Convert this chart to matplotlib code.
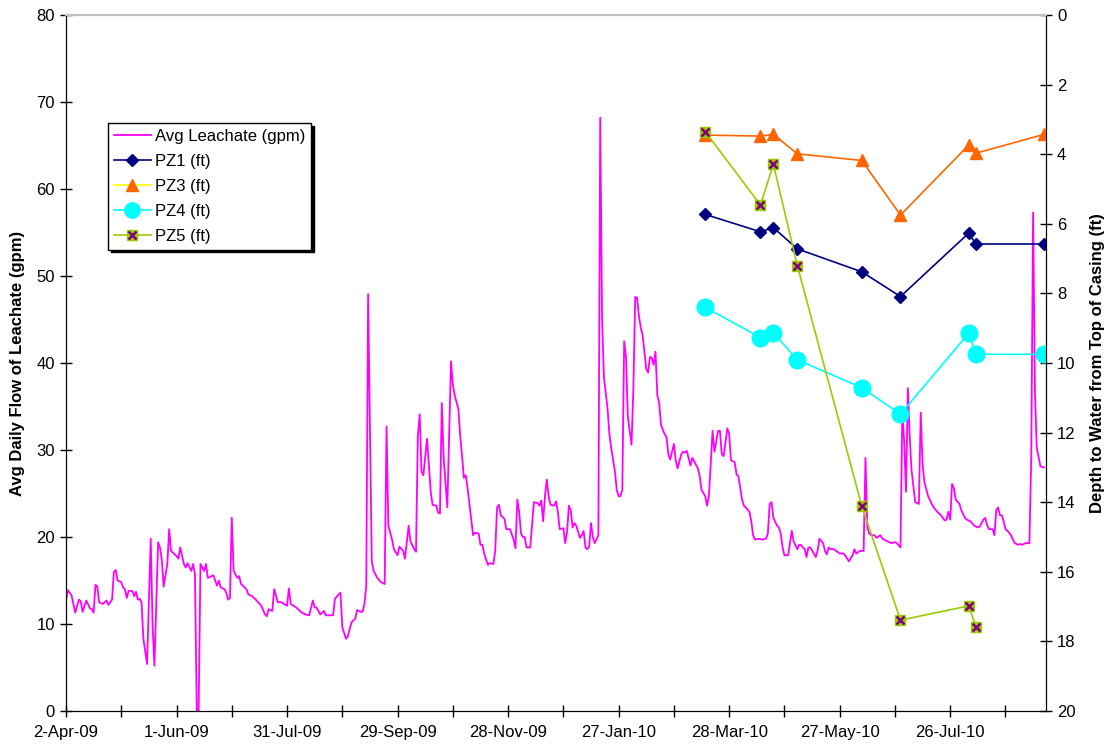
import matplotlib
matplotlib.use('Agg')
import matplotlib.pyplot as plt
from matplotlib.lines import Line2D
import numpy as np

plt.rcParams['font.family'] = ['Liberation Sans', 'DejaVu Sans']

START = np.datetime64('2009-04-02')

# avg daily leachate flow (gpm), days counted from 2-Apr-09
flow_days = [0, 1, 3, 5, 7, 8, 9, 11, 13, 14, 15, 16, 17, 18, 20, 22, 23, 25, 26, 27,
             28, 30, 31, 32, 33, 34, 36, 37, 38, 39, 40, 41, 42, 44, 46, 47, 48, 50, 51, 52,
             53, 55, 56, 57, 60, 61, 62, 64, 65, 66, 68, 69, 70, 71, 72, 73, 75, 76, 77, 80,
             82, 83, 84, 86, 87, 88, 89, 90, 91, 93, 94, 95, 98, 99, 101, 103, 106, 108, 109, 110,
             112, 113, 115, 117, 119, 120, 121, 122, 125, 127, 128, 130, 132, 134, 135, 136, 138, 140, 141, 145,
             146, 148, 149, 150, 152, 153, 155, 157, 158, 160, 161, 162, 163, 164, 166, 167, 169, 171, 173, 174,
             175, 177, 178, 180, 181, 183, 184, 186, 187, 189, 190, 191, 192, 193, 194, 196, 198, 199, 201, 202,
             203, 204, 205, 207, 209, 210, 211, 213, 214, 215, 216, 217, 218, 220, 221, 222, 224, 225, 226, 227,
             229, 230, 232, 233, 234, 235, 236, 238, 239, 241, 243, 244, 245, 246, 247, 248, 249, 250, 252, 254,
             256, 257, 258, 259, 260, 261, 262, 263, 265, 266, 267, 268, 270, 271, 272, 273, 274, 275, 276, 277,
             279, 280, 281, 282, 283, 284, 285, 286, 287, 289, 290, 291, 292, 294, 295, 296, 298, 299, 300, 301,
             302, 303, 304, 305, 307, 308, 309, 310, 311, 312, 313, 315, 316, 317, 318, 319, 320, 321, 322, 323,
             325, 326, 327, 328, 330, 331, 332, 334, 335, 336, 337, 339, 340, 341, 343, 344, 345, 347, 348, 349,
             351, 352, 354, 355, 356, 357, 359, 360, 361, 363, 364, 365, 367, 368, 369, 371, 372, 373, 374, 376,
             378, 380, 381, 382, 383, 384, 386, 387, 388, 389, 390, 392, 393, 394, 395, 397, 398, 399, 400, 401,
             402, 403, 404, 406, 407, 408, 409, 411, 412, 413, 414, 415, 417, 418, 420, 422, 423, 425, 427, 428,
             429, 431, 433, 434, 435, 436, 437, 439, 440, 442, 443, 444, 446, 448, 450, 451, 453, 454, 455, 456,
             457, 458, 459, 461, 463, 464, 465, 466, 468, 470, 471, 473, 475, 477, 478, 479, 480, 481, 482, 483,
             485, 486, 488, 489, 491, 493, 495, 496, 498, 499, 500, 501, 503, 504, 505, 506, 507, 508, 509, 510,
             512, 513, 514, 515, 517, 518, 519, 521, 523, 524, 525, 526, 527, 529, 531]
flow_gpm = [12.7, 13.9, 13.3, 11.3, 12.8, 12.6, 11.4, 12.7, 11.8, 11.7, 11.3, 14.5, 14.3, 12.5, 12.3, 12.7, 12.2, 12.8, 16.0, 16.2,
            15.0, 14.8, 14.2, 14.0, 13.0, 13.8, 13.8, 13.2, 13.7, 12.8, 12.9, 12.5, 8.3, 5.4, 19.8, 9.8, 5.2, 19.4, 18.8, 17.4,
            14.3, 16.9, 20.9, 18.4, 17.8, 17.5, 18.8, 16.9, 16.5, 17.0, 16.1, 16.9, 15.7, 0.0, 0.0, 16.9, 16.1, 16.9, 15.3, 15.6,
            14.4, 15.0, 14.2, 14.0, 13.6, 12.8, 13.0, 22.2, 16.1, 15.3, 15.5, 14.6, 14.0, 13.4, 13.2, 12.8, 12.1, 11.1, 10.9, 11.7,
            11.5, 14.0, 12.5, 12.5, 12.2, 12.1, 14.1, 12.3, 11.9, 11.5, 11.3, 11.1, 11.0, 12.7, 11.9, 11.9, 11.1, 11.5, 11.0, 11.0,
            12.9, 13.4, 13.6, 9.6, 8.3, 8.6, 10.2, 10.6, 11.6, 11.4, 11.4, 12.3, 14.4, 47.9, 17.2, 16.1, 15.3, 14.8, 14.6, 32.7,
            21.3, 19.7, 18.6, 17.9, 18.9, 18.4, 17.5, 21.3, 19.5, 18.6, 18.3, 31.6, 34.1, 27.5, 27.1, 31.3, 25.2, 23.7, 23.6, 22.8,
            22.7, 35.4, 29.1, 23.4, 40.2, 37.5, 36.3, 34.7, 31.6, 29.3, 26.8, 27.1, 25.6, 22.0, 20.2, 20.5, 20.4, 19.1, 19.1, 18.1,
            16.8, 17.0, 16.9, 18.4, 23.4, 23.7, 22.5, 22.1, 20.9, 20.9, 19.7, 18.7, 24.3, 22.9, 20.4, 20.0, 20.0, 18.8, 18.8, 24.0,
            23.9, 23.6, 24.2, 21.8, 24.7, 26.6, 24.7, 23.7, 23.6, 24.1, 22.9, 20.9, 21.0, 19.3, 20.6, 23.6, 23.1, 21.1, 21.6, 21.3,
            19.9, 20.2, 20.7, 18.8, 18.6, 18.9, 21.6, 20.0, 19.3, 20.2, 68.2, 45.2, 38.4, 34.7, 31.8, 30.2, 27.5, 25.4, 24.7, 24.7,
            25.4, 42.5, 40.7, 33.8, 30.6, 37.0, 47.6, 47.5, 45.4, 44.1, 43.2, 39.3, 38.9, 40.7, 40.6, 39.8, 41.3, 36.3, 35.4, 32.9,
            31.8, 31.5, 29.5, 28.9, 30.7, 28.8, 27.9, 29.5, 29.8, 29.7, 29.9, 28.2, 29.1, 28.7, 27.9, 27.0, 25.4, 24.7, 23.6, 24.7,
            32.2, 29.8, 32.2, 32.2, 29.5, 29.3, 32.5, 31.8, 28.8, 28.6, 27.2, 27.0, 24.3, 23.6, 23.4, 22.9, 21.8, 20.2, 19.7, 19.8,
            19.7, 19.8, 20.4, 23.8, 24.0, 22.2, 21.3, 21.1, 20.4, 18.8, 17.9, 17.9, 19.3, 20.7, 19.5, 18.6, 19.1, 19.1, 18.8, 18.6,
            17.7, 18.8, 18.8, 18.1, 17.7, 18.4, 19.8, 19.3, 18.4, 18.0, 18.8, 18.6, 18.6, 18.4, 18.1, 18.1, 17.9, 17.2, 17.9, 18.6,
            18.1, 18.4, 18.4, 29.1, 21.1, 20.4, 20.2, 20.2, 19.9, 20.2, 19.9, 19.7, 19.5, 19.3, 19.4, 19.3, 18.8, 34.3, 31.0, 25.2,
            37.1, 31.6, 27.7, 24.0, 23.8, 34.3, 28.4, 26.3, 24.7, 23.8, 23.4, 22.9, 22.5, 21.9, 22.0, 22.9, 22.0, 26.1, 25.6, 24.3,
            23.8, 23.1, 22.2, 22.0, 21.8, 21.3, 21.1, 21.2, 22.0, 22.2, 21.4, 20.9, 20.9, 20.2, 23.1, 23.4, 22.5, 22.5, 21.8, 20.9,
            20.5, 20.2, 19.7, 19.3, 19.1, 19.2, 19.1, 19.3, 19.3, 29.3, 57.3, 36.6, 30.2, 28.1, 28.0]

# piezometer depth to water (ft), days counted from 2-Apr-09
pz_days = [347, 377, 384, 397, 432, 453, 490, 494, 531]
pz1 = [5.73, 6.23, 6.11, 6.72, 7.38, 8.09, 6.27, 6.58, 6.58]
pz3 = [3.45, 3.48, 3.43, 3.99, 4.18, 5.75, 3.74, 3.97, 3.43]
pz4 = [8.40, 9.27, 9.13, 9.91, 10.71, 11.47, 9.15, 9.75, 9.75]
pz5_days = [347, 377, 384, 397, 432, 453, 490, 494]
pz5 = [3.35, 5.46, 4.29, 7.20, 14.11, 17.39, 16.98, 17.58]

flow_dates = START + np.array(flow_days).astype('timedelta64[D]')
pz_dates = START + np.array(pz_days).astype('timedelta64[D]')
pz5_dates = START + np.array(pz5_days).astype('timedelta64[D]')

fig = plt.figure(figsize=(11.12, 7.48), dpi=100)
ax = fig.add_axes([66 / 1112, 37 / 748, 980 / 1112, 696 / 748])
ax2 = ax.twinx()

ax.plot(flow_dates, flow_gpm, color='#FF00FF', lw=1.3, zorder=2)

ax2.plot(pz_dates, pz1, color='#000080', lw=1.2, marker='D', ms=6.5)
ax2.plot(pz_dates, pz3, color='#FF6600', lw=1.2, marker='^', ms=9)
ax2.plot(pz_dates, pz4, color='#00FFFF', lw=1.2, marker='o', ms=12)
ax2.plot(pz5_dates, pz5, color='#99CC00', lw=1.2, marker='s', ms=6.5, mec='#99CC00')
ax2.plot(pz5_dates, pz5, ls='none', marker='x', ms=6, mew=1.8, color='#800080')

ax.set_ylim(0, 80)
ax.set_yticks(range(0, 81, 10))
ax2.set_ylim(20, 0)
ax2.set_yticks(range(0, 21, 2))

ax.set_xlim(START, START + np.timedelta64(532, 'D'))
tick_dates = START + (np.arange(18) * 30).astype('timedelta64[D]')
labels = []
for i, t in enumerate(tick_dates):
    d = t.astype(object)
    labels.append(f"{d.day}-{d.strftime('%b-%y')}" if i % 2 == 0 else '')
ax.set_xticks(tick_dates)
ax.set_xticklabels(labels)

for a in (ax, ax2):
    a.tick_params(direction='inout', length=8, width=1, labelsize=12, pad=4)
    a.spines['top'].set_color('#C0C0C0')
    a.spines['top'].set_linewidth(1.5)
ax.tick_params(axis='x', pad=6)

ax.set_ylabel('Avg Daily Flow of Leachate (gpm)', fontsize=12, fontweight='bold', labelpad=8)
ax2.set_ylabel('Depth to Water from Top of Casing (ft)', fontsize=12, fontweight='bold',
               rotation=90, labelpad=10)

handles = [
    Line2D([], [], color='#FF00FF', lw=1.3),
    Line2D([], [], color='#000080', lw=1.2, marker='D', ms=6.5),
    Line2D([], [], color='#FFFF00', lw=1.2, marker='^', ms=9, mfc='#FF6600', mec='#FF6600'),
    Line2D([], [], color='#00FFFF', lw=1.2, marker='o', ms=11),
    (Line2D([], [], color='#99CC00', lw=1.2, marker='s', ms=6.5),
     Line2D([], [], ls='none', marker='x', ms=6, mew=1.8, color='#800080')),
]
names = ['Avg Leachate (gpm)', 'PZ1 (ft)', 'PZ3 (ft)', 'PZ4 (ft)', 'PZ5 (ft)']
leg = ax2.legend(handles, names, loc='upper left', bbox_to_anchor=(0.043, 0.845),
                 borderaxespad=0, fancybox=False, framealpha=1, edgecolor='black',
                 shadow={'color': 'black', 'alpha': 1}, fontsize=12,
                 handlelength=2.2, handletextpad=0.25, labelspacing=0.6, borderpad=0.35)
leg.get_frame().set_linewidth(1.0)

plt.savefig('out.png', dpi=100)
